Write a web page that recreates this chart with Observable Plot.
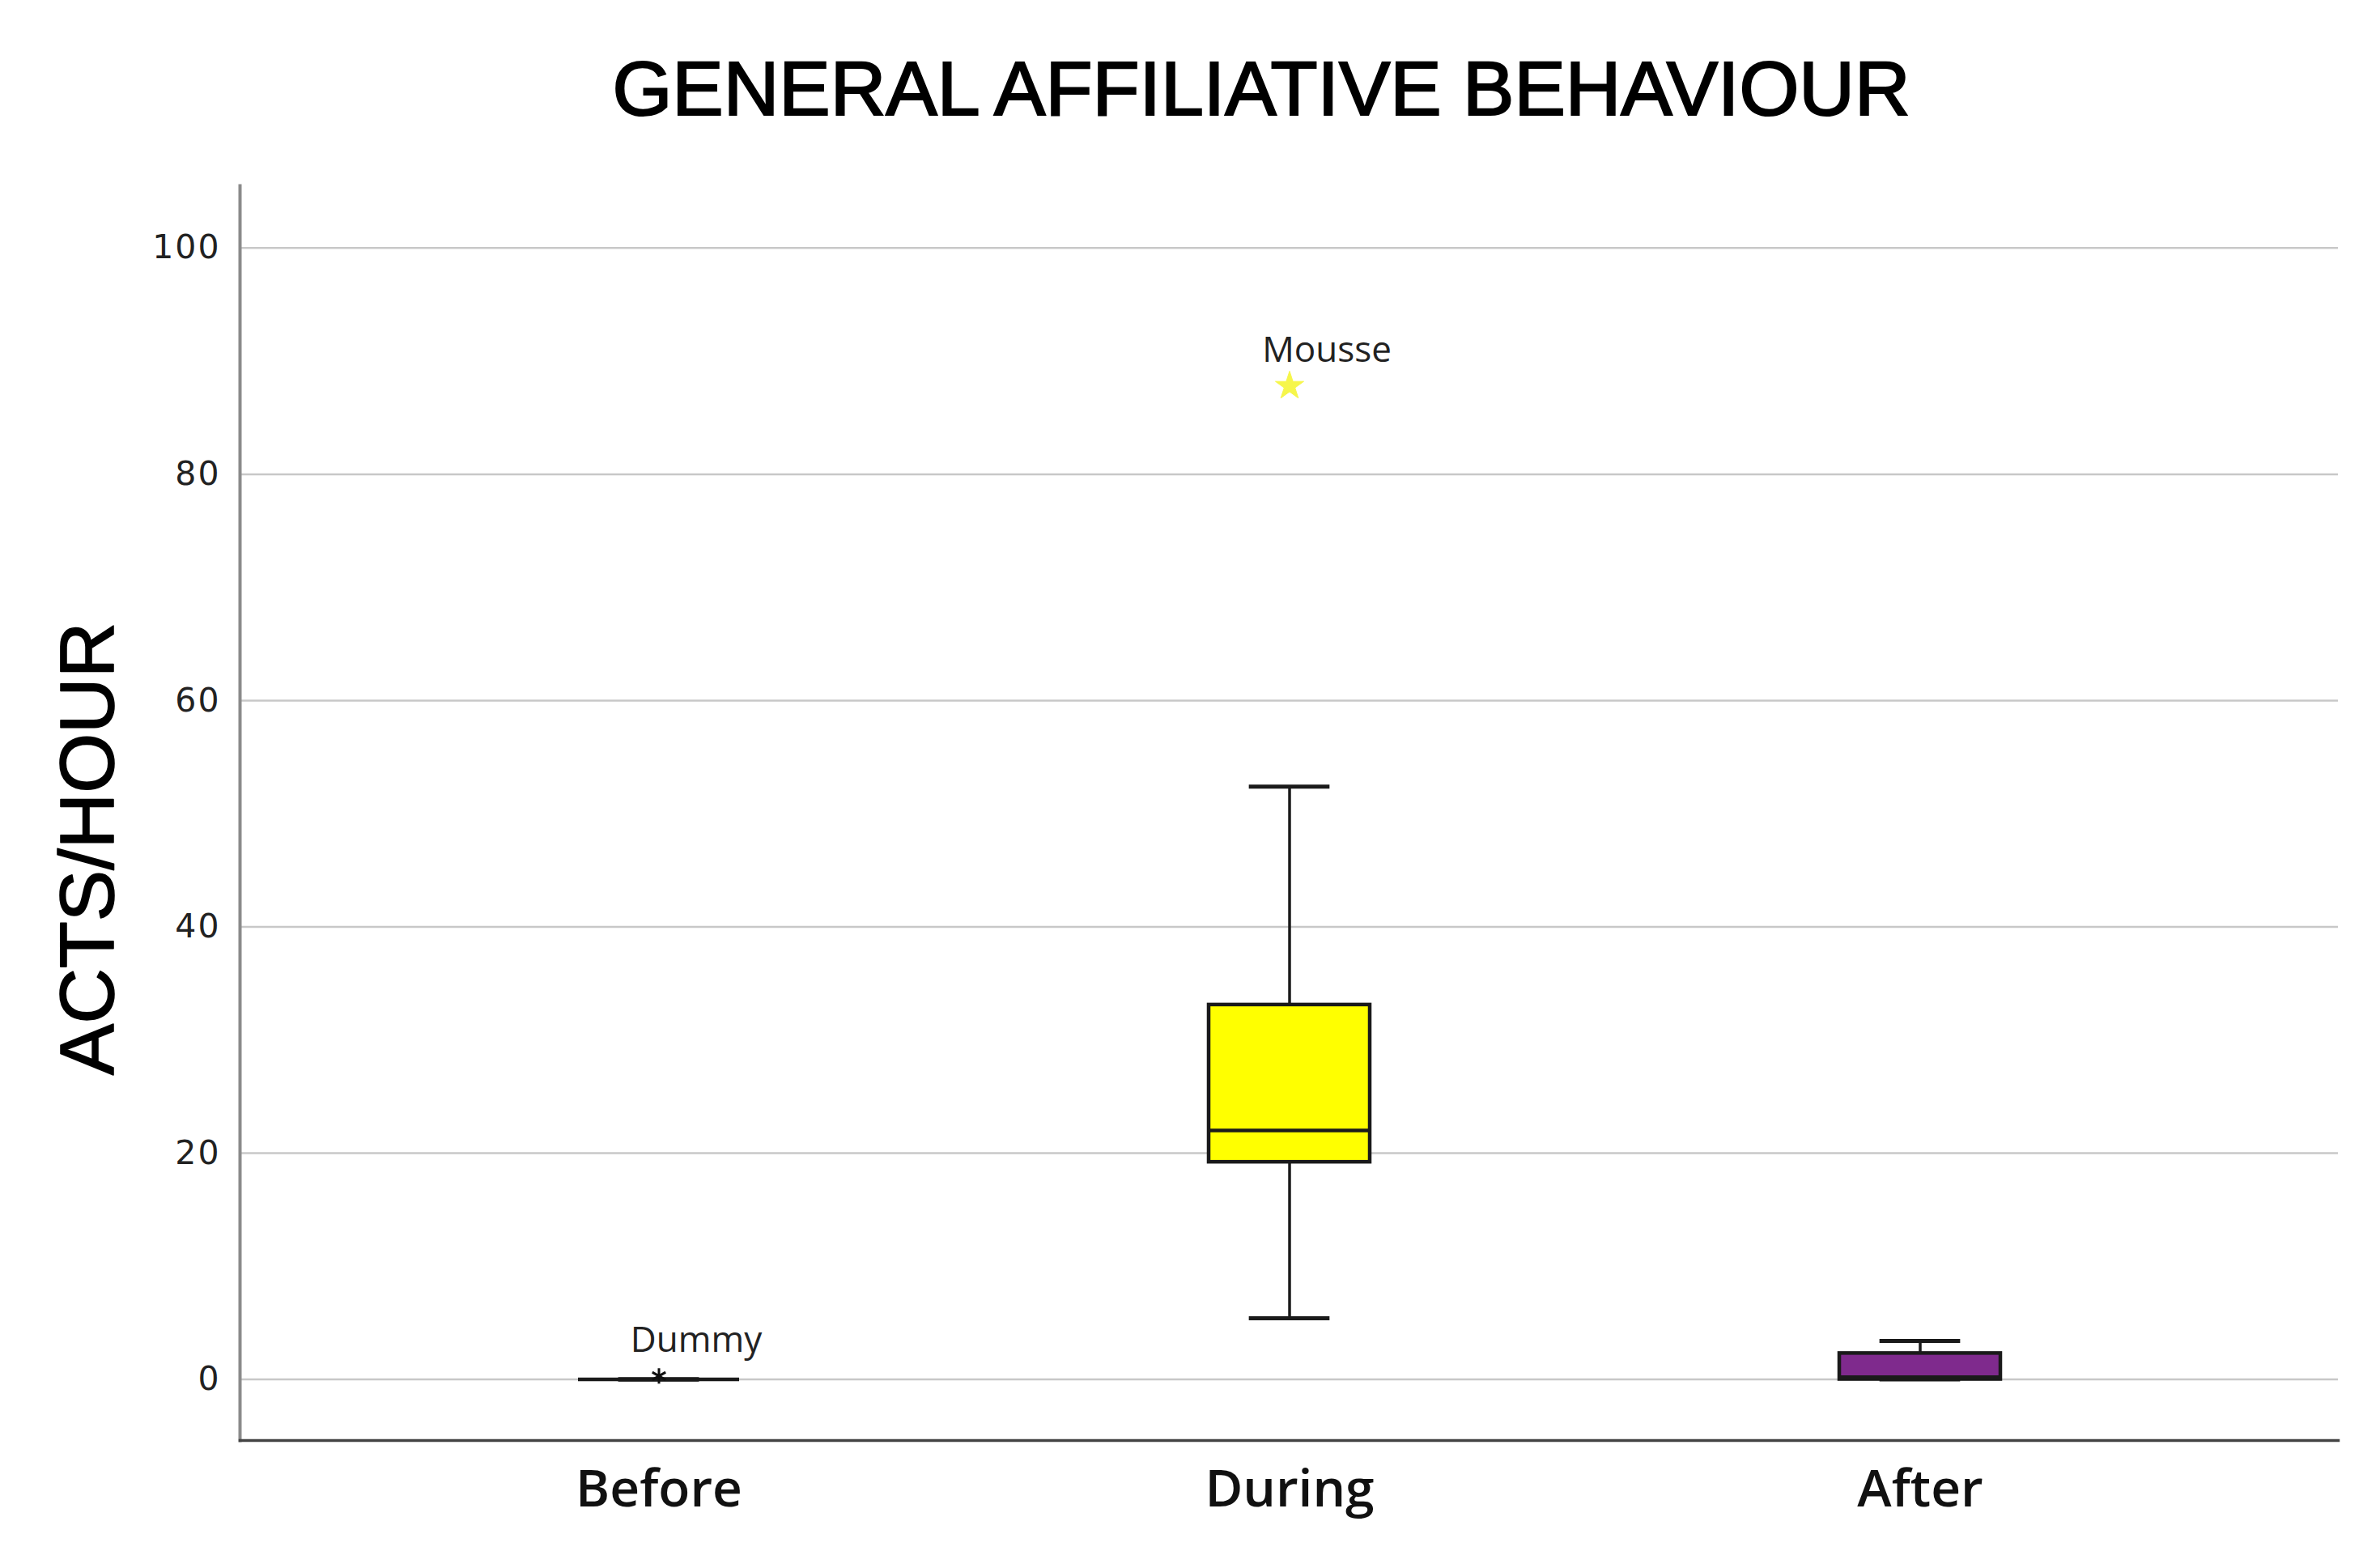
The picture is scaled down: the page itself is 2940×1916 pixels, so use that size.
<!DOCTYPE html>
<html>
<head>
<meta charset="utf-8">
<script src="https://cdn.jsdelivr.net/npm/d3@7"></script>
<script src="https://cdn.jsdelivr.net/npm/@observablehq/plot@0.6"></script>
<style>
  html, body { margin: 0; padding: 0; background: #ffffff; }
  #wrap { position: relative; width: 2940px; height: 1916px; }
  #title {
    position: absolute; left: 1558px; top: 62px; transform: translateX(-50%);
    white-space: nowrap; font: 95px/1 "Liberation Sans", Arial, sans-serif;
    color: #000; -webkit-text-stroke: 2.2px #000; letter-spacing: 0px;
  }
  #chart { position: absolute; left: 0; top: 200px; }
  #chart [aria-label="y-axis tick label"] text { letter-spacing: 2px; }
</style>
</head>
<body>
<div id="wrap">
  <div id="title">GENERAL AFFILIATIVE BEHAVIOUR</div>
  <div id="chart"></div>
</div>
<script>
// ---- data ----
const categories   = ["Before", "During", "After"];
const whiskerLow   = [0, 5.4, 0];
const quartile1    = [0, 19.2, 0];
const medians      = [0, 22.0, 0.2];
const quartile3    = [0, 33.1, 2.3];
const whiskerHigh  = [0, 52.4, 3.4];
const boxColors    = ["#000000", "#ffff00", "#7f2a8d"];

const outlierGroup = ["Before", "During"];
const outlierValue = [0.3, 87.8];
const outlierLabel = ["Dummy", "Mousse"];

const yTicks = [0, 20, 40, 60, 80, 100];
const yTitle = "ACTS/HOUR";

// ---- tables built from the arrays ----
const boxes = categories.map((c, i) => ({
  cat: c, low: whiskerLow[i], q1: quartile1[i], med: medians[i],
  q3: quartile3[i], high: whiskerHigh[i], color: boxColors[i]
}));
const outliers = outlierGroup.map((c, i) => ({cat: c, value: outlierValue[i], label: outlierLabel[i]}));

const W = 2940, H = 1716;
const mL = 296, mR = 52, mT = 29, mB = 137;
const pIn = 0.745, pOut = 0.536;
const step = (W - mL - mR) / (categories.length - pIn + 2 * pOut);
const bw = step * (1 - pIn);
const capInset = bw / 4;
const ink = "#1a1a1a";

const chart = Plot.plot({
  width: W, height: H,
  marginLeft: mL, marginRight: mR, marginTop: mT, marginBottom: mB,
  style: {background: "#ffffff", overflow: "visible"},
  x: {type: "band", domain: categories, paddingInner: pIn, paddingOuter: pOut, label: null},
  y: {domain: [-5.4, 105.5], ticks: yTicks, label: null},
  marks: [
    Plot.gridY(yTicks, {stroke: "#c8c8c8", strokeOpacity: 1, strokeWidth: 2.5}),
    Plot.axisY(yTicks, {tickSize: 0, tickPadding: 24, fontSize: 41, fontFamily: "DejaVu Sans", fill: "#222", label: null}),
    Plot.axisX({tickSize: 0, tickPadding: 36, fontSize: 64, fontWeight: 600, fontFamily: "Open Sans", fill: "#111", label: null}),
    Plot.frame({anchor: "left", stroke: "#8a8a8a", strokeWidth: 4}),
    Plot.frame({anchor: "bottom", stroke: "#444", strokeWidth: 3.5}),
    // whiskers
    Plot.ruleX(boxes, {x: "cat", y1: "low", y2: "high", stroke: ink, strokeWidth: 3.5}),
    Plot.tickY(boxes, {x: "cat", y: "low", stroke: ink, strokeWidth: 5, insetLeft: capInset, insetRight: capInset}),
    Plot.tickY(boxes, {x: "cat", y: "high", stroke: ink, strokeWidth: 5, insetLeft: capInset, insetRight: capInset}),
    // boxes
    Plot.barY(boxes, {x: "cat", y1: "q1", y2: "q3", fill: "color", stroke: ink, strokeWidth: 4.5}),
    Plot.tickY(boxes, {x: "cat", y: "med", stroke: ink, strokeWidth: 4.5}),
    // outliers
    Plot.dot(outliers.filter(d => d.cat === "Before"), {x: "cat", y: "value", symbol: "asterisk", r: 9, stroke: "#111", strokeWidth: 3}),
    Plot.dot(outliers.filter(d => d.cat === "During"), {x: "cat", y: "value", symbol: "star", r: 11, fill: "#f6f64a", stroke: "#f6f64a", strokeWidth: 1}),
    Plot.text(outliers, {x: "cat", y: "value", text: "label", dx: 46, dy: -44, fontSize: 44, fontFamily: "Open Sans", fill: "#222"}),
    // y title
    Plot.text([yTitle], {frameAnchor: "left", text: d => d, rotate: -90, textAnchor: "middle", dx: -187, dy: 44,
      fontSize: 95, fontFamily: "Liberation Sans", fill: "#000", stroke: "#000", strokeWidth: 1.6})
  ]
});
document.getElementById("chart").appendChild(chart);
</script>
</body>
</html>
